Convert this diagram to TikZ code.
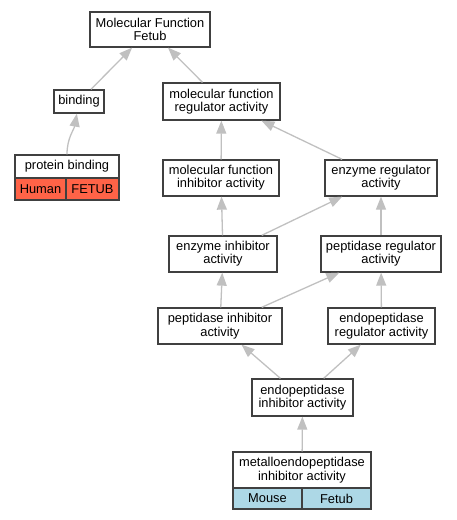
\documentclass[tikz,border=0pt]{standalone}
\usepackage{fontspec}
\setmainfont{Liberation Sans}
\usetikzlibrary{arrows.meta}

\definecolor{boxline}{HTML}{404040}
\definecolor{edgegray}{HTML}{C0C0C0}
\definecolor{humanred}{HTML}{FF6347}
\definecolor{mouseblue}{HTML}{ADD8E6}

\tikzset{
  term/.style={draw=boxline, line width=1.3bp, fill=white, align=center, inner sep=0pt,
    font=\fontsize{12.9}{13.4}\selectfont},
  cell/.style={term},
  isa/.style={draw=edgegray, line width=1.3bp, -{Triangle[length=13bp,width=10bp,fill=edgegray]}},
}

\begin{document}
\begin{tikzpicture}[x=1bp, y=-1bp]
  \useasboundingbox (0,0) rectangle (457,520);

  % columns and rows of the layout
  \def\xl{221}
  \def\xr{381}
  \def\ya{178}
  \def\yb{254}
  \def\yc{326}

  % terms
  \node[term, minimum width=120bp, minimum height=35bp] (mf) at (150,29.5) {Molecular Function\\Fetub};
  \node[term, minimum width=50bp, minimum height=23bp] (bind) at (79,101.5) {binding};
  \node[term, minimum width=104bp, minimum height=23bp] (pb) at (67,166.5) {protein binding};
  \node[cell, fill=humanred, minimum width=51bp, minimum height=22bp] (pbh) at (40.5,189) {Human};
  \node[cell, fill=humanred, minimum width=53bp, minimum height=22bp] (pbf) at (92.5,189) {FETUB};

  \node[term, minimum width=117bp, minimum height=37bp] (mfr) at (221.5,101.5) {molecular function\\regulator activity};
  \node[term, minimum width=116bp, minimum height=36bp] (mfi) at (\xl,\ya) {molecular function\\inhibitor activity};
  \node[term, minimum width=112bp, minimum height=36bp] (er) at (\xr,\ya) {enzyme regulator\\activity};
  \node[term, minimum width=108bp, minimum height=36bp] (ei) at (223,\yb) {enzyme inhibitor\\activity};
  \node[term, minimum width=120bp, minimum height=36bp] (pr) at (\xr,\yb) {peptidase regulator\\activity};
  \node[term, minimum width=124bp, minimum height=36bp] (pi) at (220,\yc) {peptidase inhibitor\\activity};
  \node[term, minimum width=107bp, minimum height=36bp] (epr) at (381.5,\yc) {endopeptidase\\regulator activity};
  \node[term, minimum width=101bp, minimum height=37bp] (epi) at (302.5,397.5) {endopeptidase\\inhibitor activity};

  \node[term, minimum width=138bp, minimum height=36bp] (met) at (302,470) {metalloendopeptidase\\inhibitor activity};
  \node[cell, fill=mouseblue, minimum width=69bp, minimum height=21bp] (metm) at (267.5,498.5) {Mouse};
  \node[cell, fill=mouseblue, minimum width=69bp, minimum height=21bp] (metf) at (336.5,498.5) {Fetub};

  % is-a edges
  \draw[isa] (bind) -- (mf);
  \draw[isa] (mfr) -- (mf);
  \draw[isa] (pb) to[out=90, in=-100] (bind);
  \draw[isa] (mfi) -- (mfr);
  \draw[isa] (er) -- (mfr);
  \draw[isa] (ei) -- (mfi);
  \draw[isa] (ei) -- (er);
  \draw[isa] (pr) -- (er);
  \draw[isa] (pi) -- (ei);
  \draw[isa] (pi) -- (pr);
  \draw[isa] (epr) -- (pr);
  \draw[isa] (epi) -- (pi);
  \draw[isa] (epi) -- (epr);
  \draw[isa] (met) -- (epi);
\end{tikzpicture}
\end{document}
